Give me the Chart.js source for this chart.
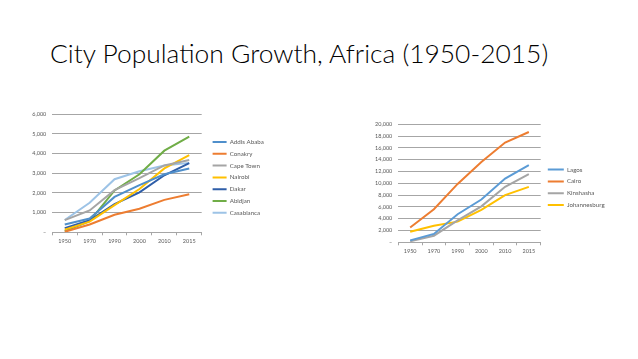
<!DOCTYPE html>
<html>
<head>
<meta charset="utf-8">
<script src="https://cdn.jsdelivr.net/npm/chart.js@4"></script>
<style>
  html, body { margin:0; padding:0; background:#fff; width:638px; height:359px; overflow:hidden; }
  #title { position:absolute; left:50px; font-family:Lato, sans-serif; font-weight:300; color:#000; white-space:nowrap; line-height:1; }
  .box { position:absolute; }
</style>
</head>
<body>
<div id="title">City Population Growth, Africa (1950-2015)</div>
<div class="box" id="b1" style="left:20px;top:105px;width:270px;height:145px;"><canvas id="c1"></canvas></div>
<div class="box" id="b2" style="left:355px;top:115px;width:270px;height:145px;"><canvas id="c2"></canvas></div>
<script>
// ---- data (thousands of people) ----
const years = ['1950','1970','1990','2000','2010','2015'];

const addisAbaba = [392, 700, 1800, 2400, 2950, 3240];
const conakry    = [31, 400, 890, 1200, 1650, 1930];
const capeTown   = [618, 1110, 2140, 2750, 3400, 3680];
const nairobi    = [137, 540, 1380, 2200, 3250, 3920];
const dakar      = [211, 610, 1430, 2030, 2900, 3520];
const abidjan    = [65, 570, 2130, 2950, 4150, 4870];
const casablanca = [625, 1500, 2700, 3100, 3400, 3530];

const lagos        = [330, 1420, 4750, 7250, 10800, 13100];
const cairo        = [2500, 5600, 9900, 13600, 16900, 18700];
const kinshasha    = [190, 1120, 3700, 6100, 9400, 11550];
const johannesburg = [1800, 2800, 3500, 5500, 8000, 9400];

const leftTicks  = [0, 1000, 2000, 3000, 4000, 5000, 6000];
const rightTicks = [0, 2000, 4000, 6000, 8000, 10000, 12000, 14000, 16000, 18000, 20000];

// ---- title sizing ----
(function(){
  const t = document.getElementById('title');
  const ctx = document.createElement('canvas').getContext('2d');
  ctx.font = '300 30px Lato';
  const w = ctx.measureText(t.textContent).width;
  const s = 30 * 500 / w;
  t.style.fontSize = s + 'px';
  t.style.top = (63.3 - 0.887 * s) + 'px';
})();

const TXT = '#595959';
const GRID = '#A6A6A6';
const FONT = 'Lato, sans-serif';

const legendTune = {
  id: 'legendTune',
  beforeLayout(chart, args, opts) {
    const l = chart.legend;
    if (l && !l._tuned) {
      const f = l.fit;
      l.fit = function() { f.call(this); this.width = opts.width; };
      l._tuned = true;
    }
  },
  afterLayout(chart, args, opts) {
    const l = chart.legend;
    if (l) { l.left += opts.dx; l.right += opts.dx; l.top += opts.dy; l.bottom += opts.dy; }
  }
};

function ds(label, data, color) {
  return { label, data, borderColor: color, backgroundColor: color, borderWidth: 2,
           pointRadius: 0, pointHoverRadius: 0, tension: 0, fill: false };
}

function fmt(v) { return v === 0 ? '–' : v.toLocaleString('en-US'); }

function makeChart(id, datasets, ticks, yWidth, pad, legendOpts, lineW) {
  return new Chart(document.getElementById(id), {
    type: 'line',
    data: { labels: years, datasets },
    plugins: [legendTune],
    options: {
      responsive: true, maintainAspectRatio: false, animation: false,
      devicePixelRatio: 1,
      layout: { padding: pad },
      plugins: {
        tooltip: { enabled: false },
        legend: {
          position: 'right',
          labels: {
            usePointStyle: true, pointStyle: 'line', pointStyleWidth: lineW,
            color: TXT, font: { family: FONT, size: 6.2 }, padding: 5.6
          }
        },
        legendTune: legendOpts
      },
      scales: {
        x: {
          offset: true,
          grid: { display: true, drawOnChartArea: false, offset: true, tickLength: 3, color: GRID },
          border: { display: true, color: GRID, width: 1 },
          ticks: { color: TXT, font: { family: FONT, size: 5.5 }, padding: 3, maxRotation: 0, autoSkip: false },
          afterFit(s) { s.height = 14; }
        },
        y: {
          min: ticks[0], max: ticks[ticks.length - 1],
          afterBuildTicks(s) { s.ticks = ticks.map(v => ({ value: v })); },
          grid: { color: GRID, drawTicks: false, lineWidth: 1 },
          border: { display: false },
          ticks: { color: TXT, font: { family: FONT, size: 5.5 }, padding: 6, callback: fmt },
          afterFit(s) { s.width = yWidth; }
        }
      }
    }
  });
}

makeChart('c1', [
  ds('Addis Ababa', addisAbaba, '#4F8FCB'),
  ds('Conakry', conakry, '#ED7D31'),
  ds('Cape Town', capeTown, '#A5A5A5'),
  ds('Nairobi', nairobi, '#FFC000'),
  ds('Dakar', dakar, '#2F5EA8'),
  ds('Abidjan', abidjan, '#70AD47'),
  ds('Casablanca', casablanca, '#9DC3E6')
], leftTicks, 32.3, { top: 8.3, bottom: 3.7, left: 0, right: 0 }, { width: 88.3, dx: 5.3, dy: -2.4 }, 14);

makeChart('c2', [
  ds('Lagos', lagos, '#5B9BD5'),
  ds('Cairo', cairo, '#ED7D31'),
  ds('Kinshasha', kinshasha, '#A5A5A5'),
  ds('Johannesburg', johannesburg, '#FFC000')
], rightTicks, 43.3, { top: 7.7, bottom: 3.7, left: 0, right: 0 }, { width: 84.3, dx: 1.5, dy: -2.2 }, 16);
</script>
</body>
</html>
